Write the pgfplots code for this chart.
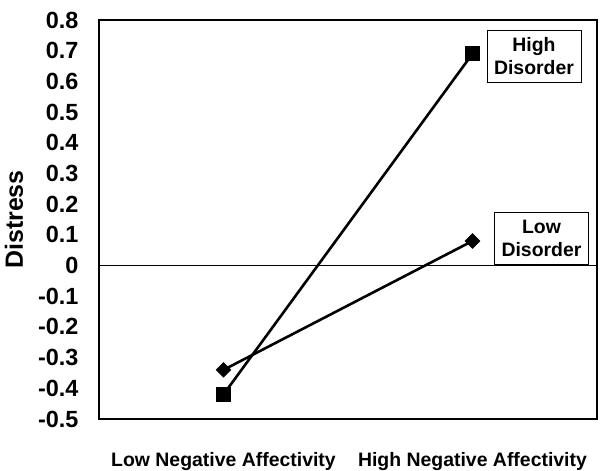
\documentclass[border=0pt]{standalone}
\usepackage{pgfplots}
\pgfplotsset{compat=1.18}
\usepackage{fontspec}
\setmainfont{Liberation Sans}
\begin{document}
\begin{tikzpicture}
\begin{axis}[
  scale only axis,
  width=498bp, height=399bp,
  xmin=0.5, xmax=2.5,
  ymin=-0.5, ymax=0.8,
  ytick={-0.5,-0.4,...,0.8},
  yticklabel style={/pgf/number format/fixed,/pgf/number format/precision=1,/pgf/number format/assume math mode=true,font=\fontsize{23.5}{25}\selectfont\bfseries, xshift=-17bp},
  xtick={1,2},
  xticklabels={Low Negative Affectivity, High Negative Affectivity},
  xticklabel style={font=\fontsize{19.5}{21}\selectfont\bfseries, yshift=-30bp},
  major tick length=0pt,
  axis line style={line width=2.2bp},
  ylabel={Distress},
  ylabel style={font=\fontsize{25}{27}\selectfont\bfseries, at={(rel axis cs:0,0.5)}, anchor=center, yshift=85bp},
  clip=false,
]
\coordinate (bl) at (rel axis cs:0,0);
\coordinate (tr) at (rel axis cs:1,1);
\addplot[black, line width=1.1bp, forget plot] coordinates {(0.5,0) (2.5,0)};
\addplot[black, line width=2.6bp, mark=square*, mark size=7bp, mark options={solid, line width=1bp}] coordinates {(1,-0.42) (2,0.69)};
\addplot[black, line width=2.6bp, mark=square*, mark size=5bp, mark options={solid, rotate=45, line width=1bp}] coordinates {(1,-0.34) (2,0.08)};
\node[draw, line width=1bp, align=center, font=\fontsize{19.5}{23}\selectfont\bfseries, inner sep=1bp, minimum width=94bp, minimum height=52bp] at (axis cs:2.247,0.682) {High\\Disorder};
\node[draw, line width=1bp, align=center, font=\fontsize{19.5}{23}\selectfont\bfseries, inner sep=1bp, minimum width=94bp, minimum height=52bp] at (axis cs:2.277,0.0896) {Low\\Disorder};
\end{axis}
\pgfresetboundingbox
\path ([shift={(-99bp,-52bp)}]bl) rectangle ([shift={(18bp,20bp)}]tr);
\end{tikzpicture}
\end{document}
